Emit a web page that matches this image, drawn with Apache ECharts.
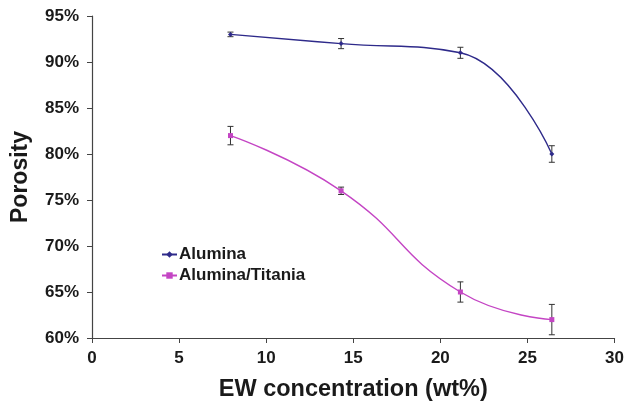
<!DOCTYPE html>
<html><head><meta charset="utf-8">
<script src="https://cdn.jsdelivr.net/npm/echarts@6/dist/echarts.min.js"></script>
<style>html,body{margin:0;padding:0;background:#fff}#c{width:627px;height:410px}</style>
</head><body><div id="c"></div>
<script>
const concentration = [7.95, 14.3, 21.15, 26.4];
const alumina = [93, 92, 91, 80];
const aluminaErr = [0.25, 0.55, 0.6, 0.9];
const aluminaTitania = [82, 76, 65, 62];
const aluminaTitaniaErr = [1.0, 0.4, 1.1, 1.65];
const xTicks = [0, 5, 10, 15, 20, 25, 30];
const yTicks = [60, 65, 70, 75, 80, 85, 90, 95];

const font = 'Liberation Sans, Arial, sans-serif';
const chart = echarts.init(document.getElementById('c'));

function pairs(xs, ys) { return xs.map((x, i) => [x, ys[i]]); }
function errData(xs, ys, es) { return xs.map((x, i) => [x, ys[i] - es[i], ys[i] + es[i]]); }
function errSeries(data) {
  return {
    type: 'custom', silent: true, z: 1,
    renderItem: function (params, api) {
      const lo = api.coord([api.value(0), api.value(1)]);
      const hi = api.coord([api.value(0), api.value(2)]);
      const w = 3;
      const st = { stroke: '#333', lineWidth: 1 };
      return { type: 'group', children: [
        { type: 'line', shape: { x1: lo[0], y1: lo[1], x2: hi[0], y2: hi[1] }, style: st },
        { type: 'line', shape: { x1: lo[0] - w, y1: lo[1], x2: lo[0] + w, y2: lo[1] }, style: st },
        { type: 'line', shape: { x1: hi[0] - w, y1: hi[1], x2: hi[0] + w, y2: hi[1] }, style: st }
      ]};
    },
    data: data
  };
}

chart.setOption({
  animation: false,
  backgroundColor: '#fff',
  grid: { left: 92, right: 10, top: 16, bottom: 72 },
  legend: {
    orient: 'vertical', left: 156, top: 241, itemGap: 4, itemWidth: 15, itemHeight: 8,
    textStyle: { fontFamily: font, fontWeight: 'bold', fontSize: 17, color: '#1a1a1a', padding: [0, 0, 0, -3] },
    data: ['Alumina', 'Alumina/Titania']
  },
  xAxis: {
    type: 'value', min: 0, max: 30, interval: 5,
    name: 'EW concentration (wt%)', nameLocation: 'middle', nameGap: 40,
    nameTextStyle: { fontFamily: font, fontWeight: 'bold', fontSize: 23.5, color: '#1a1a1a' },
    axisLine: { lineStyle: { color: '#444', width: 1.2 } },
    axisTick: { length: 5, lineStyle: { color: '#444' } },
    axisLabel: { fontFamily: font, fontWeight: 'bold', fontSize: 17, color: '#1a1a1a', margin: 12,
      formatter: v => xTicks.includes(v) ? String(v) : '' },
    splitLine: { show: false }
  },
  yAxis: {
    type: 'value', min: 60, max: 95, interval: 5,
    name: 'Porosity', nameLocation: 'middle', nameGap: 60, nameRotate: 90,
    nameTextStyle: { fontFamily: font, fontWeight: 'bold', fontSize: 23, color: '#1a1a1a' },
    axisLine: { show: true, lineStyle: { color: '#444', width: 1.2 } },
    axisTick: { show: true, length: 5, lineStyle: { color: '#444' } },
    axisLabel: { fontFamily: font, fontWeight: 'bold', fontSize: 17, color: '#1a1a1a', margin: 13,
      formatter: v => yTicks.includes(v) ? v + '%' : '' },
    splitLine: { show: false }
  },
  series: [
    errSeries(errData(concentration, alumina, aluminaErr)),
    errSeries(errData(concentration, aluminaTitania, aluminaTitaniaErr)),
    {
      name: 'Alumina', type: 'line', smooth: 0.45, z: 3,
      data: pairs(concentration, alumina),
      symbol: 'diamond', symbolSize: 5,
      itemStyle: { color: '#2E2A8A' },
      lineStyle: { color: '#2E2A8A', width: 1.4 }
    },
    {
      name: 'Alumina/Titania', type: 'line', smooth: 0.5, z: 3,
      data: pairs(concentration, aluminaTitania),
      symbol: 'rect', symbolSize: 5,
      itemStyle: { color: '#C445C4' },
      lineStyle: { color: '#C445C4', width: 1.4 }
    }
  ]
});
</script></body></html>
